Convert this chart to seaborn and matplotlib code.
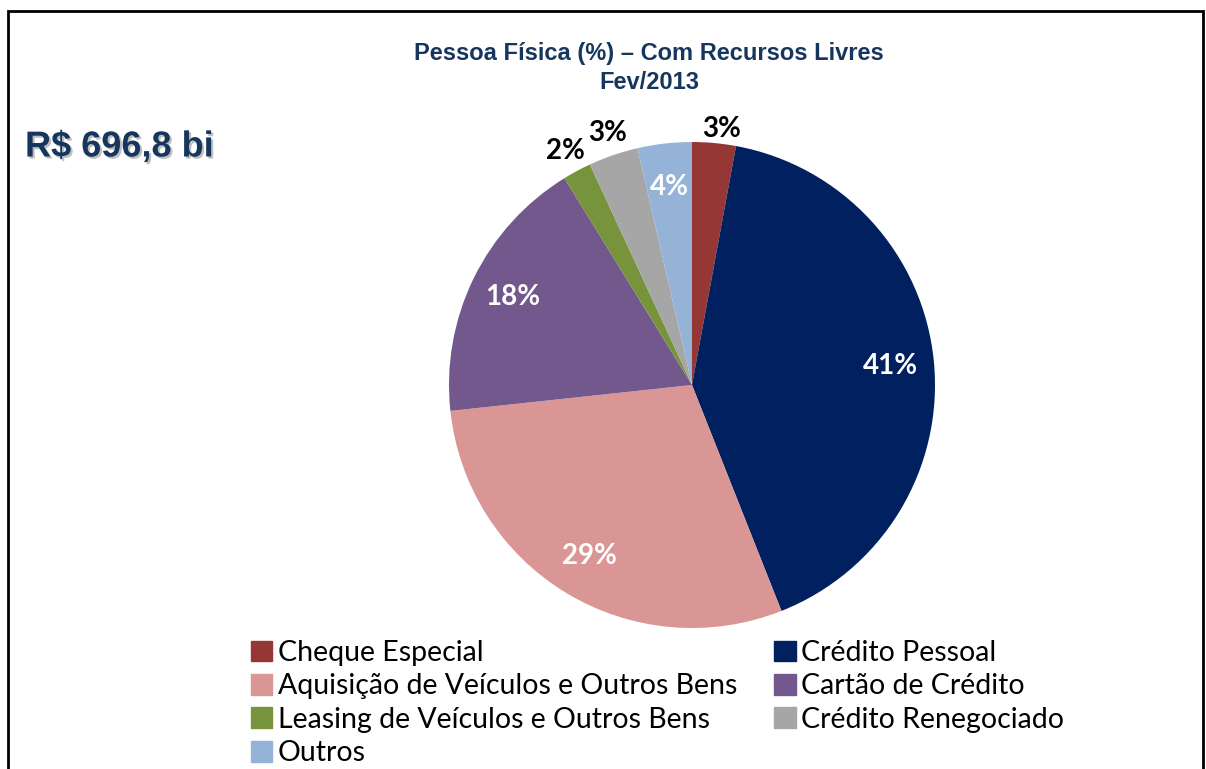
import numpy as np
import seaborn as sns
import matplotlib.pyplot as plt
import matplotlib.patches as mpatches
import matplotlib.patheffects as pe

categorias = ["Cheque Especial", "Crédito Pessoal", "Aquisição de Veículos e Outros Bens",
              "Cartão de Crédito", "Leasing de Veículos e Outros Bens",
              "Crédito Renegociado", "Outros"]
participacao = [2.9, 41.1, 29.3, 17.9, 1.9, 3.3, 3.6]
cores = ["#953735", "#002060", "#D99694", "#72588D", "#77933C", "#A6A6A6", "#95B3D7"]
rotulo_fora = [True, False, False, False, True, True, False]
titulo = "Pessoa Física (%) – Com Recursos Livres\nFev/2013"
total = "R$ 696,8 bi"

sns.set_theme(style="white")
plt.rcParams['font.family'] = ['Lato', 'DejaVu Sans']

fig = plt.figure(figsize=(12.06, 7.69), dpi=100)
ax = fig.add_axes([449 / 1206, 141 / 769, 486 / 1206, 486 / 769])

wedges, texts, autotexts = ax.pie(participacao, colors=cores, startangle=90, counterclock=False,
                                  autopct="%.0f%%", pctdistance=0.82,
                                  wedgeprops=dict(linewidth=0),
                                  textprops=dict(fontsize=20, fontweight="bold", color="white"))
ax.set_xlim(-1, 1)
ax.set_ylim(-1, 1)
ax.set_aspect("equal")

# small slices get their labels outside, in black
for w, t, fora in zip(wedges, autotexts, rotulo_fora):
    if fora:
        ang = np.deg2rad((w.theta1 + w.theta2) / 2)
        r = 1.1 if w.theta1 > 60 else 1.14
        t.set_position((r * np.cos(ang) + 0.02, r * np.sin(ang) - 0.04))
        t.set_color("black")

fig.text(649 / 1206, 1 - 68 / 769, titulo, ha="center", va="center", fontsize=17,
         fontweight="bold", color="#17365D", family="Liberation Sans", linespacing=1.3)

fig.text(25 / 1206, 1 - 147 / 769, total, ha="left", va="center", fontsize=26,
         fontweight="bold", color="#17365D", family="Liberation Sans",
         path_effects=[pe.withSimplePatchShadow(offset=(1.5, -1.5), shadow_rgbFace="gray", alpha=0.5)])

# legend: row order in reference, matplotlib fills by column
ordem = [0, 2, 4, 6, 1, 3, 5]
handles = [mpatches.Patch(color=cores[i]) for i in ordem]
labels = [categorias[i] for i in ordem]
fig.legend(handles, labels, ncol=2, loc="upper left", bbox_to_anchor=(251 / 1206, 1 - 640 / 769),
           frameon=False, fontsize=20.5, handlelength=0.75, handleheight=0.75, handletextpad=0.2,
           columnspacing=1.3, labelspacing=0.26, borderaxespad=0, borderpad=0,
           labelcolor="black")

# frame around the figure
moldura = mpatches.Rectangle((8 / 1206, -0.05), 1195 / 1206, 1.05 - 11 / 769,
                             transform=fig.transFigure, fill=False, edgecolor="black", linewidth=2)
fig.patches.append(moldura)

fig.savefig("out.png", dpi=100, facecolor="white")
